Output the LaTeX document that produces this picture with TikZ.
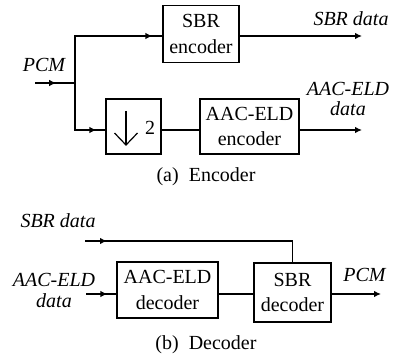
\documentclass[tikz,border=0pt]{standalone}
\usepackage{fontspec}
\setmainfont{Liberation Serif}
\usetikzlibrary{arrows.meta,decorations.markings}
\begin{document}
\begin{tikzpicture}[x=1pt,y=-1pt,
  every node/.style={font=\fontsize{20}{25.5}\selectfont, inner sep=0pt},
  box/.style={draw, line width=1.2pt, align=center},
  ln/.style={line width=1.2pt},
  tip/.style={-{Latex[length=7pt,width=6.5pt]}},
  midtip/.style={postaction={decorate,decoration={markings,mark=at position #1 with {\arrow{Latex[length=7pt,width=6.5pt]}}}}},
  lbl/.style={font=\fontsize{20}{20.5}\selectfont\itshape, align=center}
]
\useasboundingbox (0,0) rectangle (393,358);
% Encoder
\node[box,minimum width=76pt,minimum height=57pt] (sbrenc) at (201,34) {SBR\\encoder};
\node[box,minimum width=55pt,minimum height=55pt] (down) at (133.5,126.5) {};
\node[box,minimum width=99pt,minimum height=55pt] (aacenc) at (249.5,126.5) {AAC-ELD\\encoder};
\node (two) at ([shift={(16.5,1.5)}]down.center) {2};
\draw[ln] ([shift={(-7.5,-15.5)}]down.center) -- ([shift={(-7.5,18.5)}]down.center);
\draw[ln] ([shift={(-19,6.5)}]down.center) -- ([shift={(-7.5,18.5)}]down.center) -- ([shift={(4,6.5)}]down.center);
\coordinate (pcmin) at (35,83);
\coordinate (split) at (75,83);
\coordinate (ytop) at (0,36);
\coordinate (ybot) at (0,130);
\coordinate (sbrout) at (362,36);
\coordinate (aacout) at (362,130);
\draw[ln, midtip=0.53] (pcmin) -- (split);
\draw[ln, midtip=-10pt] (split) |- (sbrenc.west |- ytop);
\draw[ln, midtip=-9pt] (split) |- (down.west |- ybot);
\draw[ln] (down.east |- ybot) -- (aacenc.west |- ybot);
\draw[ln, tip] (aacenc.east |- ybot) -- (aacout);
\draw[ln, tip] (sbrenc.east |- ytop) -- (sbrout);
\node[lbl] (pcmlbl) at (44,65) {PCM};
\node[lbl] (sbrdlbl) at (351,18.5) {SBR data};
\node[lbl] (aacdlbl) at (348,99) {AAC-ELD\\data};
\node (capa) at (206,177) {(a)\ \ Encoder};
% Decoder
\node[box,minimum width=101pt,minimum height=56pt] (aacdec) at (167.5,290) {AAC-ELD\\decoder};
\node[box,minimum width=77pt,minimum height=59pt] (sbrdec) at (292.5,292.5) {SBR\\decoder};
\coordinate (sbrin) at (85,241);
\coordinate (aacin) at (86,294);
\coordinate (ydec) at (0,294);
\coordinate (pcmout) at (381,294);
\draw[ln, midtip=22pt] (sbrin) -| (sbrdec.north);
\draw[ln, midtip=-9pt] (aacin) -- (aacdec.west |- ydec);
\draw[ln] (aacdec.east |- ydec) -- (sbrdec.west |- ydec);
\draw[ln, tip] (sbrdec.east |- ydec) -- (pcmout);
\node[lbl] (sbrdlbl2) at (58,221) {SBR data};
\node[lbl] (aacdlbl2) at (54,290.5) {AAC-ELD\\data};
\node[lbl] (pcmlbl2) at (364.5,275) {PCM};
\node (capb) at (206,345) {(b)\ \ Decoder};
\end{tikzpicture}
\end{document}
